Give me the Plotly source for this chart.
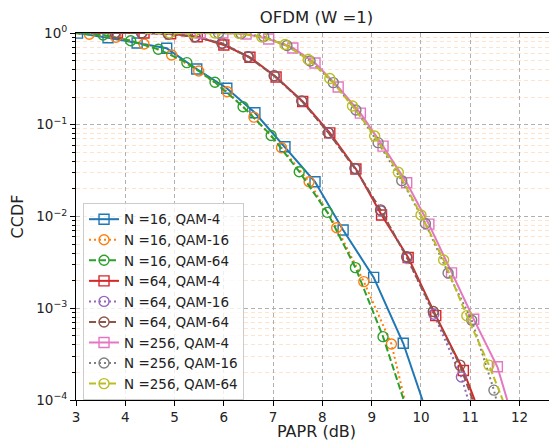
import plotly.graph_objects as go

# CCDF of PAPR (markers only; lines pass through them)
names = ['N =16, QAM-4', 'N =16, QAM-16', 'N =16, QAM-64',
         'N =64, QAM-4', 'N =64, QAM-16', 'N =64, QAM-64',
         'N =256, QAM-4', 'N =256, QAM-16', 'N =256, QAM-64']

x_16_q4 = [3.03, 3.65, 4.24, 4.84, 5.45, 6.06, 6.63, 7.24, 7.85, 8.42, 9.04, 9.64]
y_16_q4 = [0.997, 0.889, 0.778, 0.681, 0.405, 0.250, 0.135, 0.0576, 0.0239, 0.00713, 0.00217, 4.15e-4]
x_16_q16 = [3.27, 3.81, 4.38, 4.94, 5.49, 6.07, 6.61, 7.17, 7.73, 8.29, 8.84, 9.40]
y_16_q16 = [0.968, 0.898, 0.759, 0.576, 0.385, 0.229, 0.121, 0.0562, 0.0239, 0.00755, 0.00195, 4.08e-4]
x_16_q64 = [3.55, 4.11, 4.67, 5.25, 5.82, 6.39, 6.96, 7.53, 8.10, 8.67, 9.23]
y_16_q64 = [0.951, 0.824, 0.664, 0.475, 0.290, 0.157, 0.0763, 0.0308, 0.0111, 0.00277, 4.9e-4]

x_64_q4 = [3.84, 4.38, 4.92, 5.46, 6.00, 6.53, 7.06, 7.60, 8.15, 8.68, 9.20, 9.74, 10.30, 10.86]
y_64_q4 = [1.0, 1.0, 0.98, 0.91, 0.74, 0.544, 0.331, 0.179, 0.0815, 0.0330, 0.0104, 0.00358, 8.3e-4, 2.1e-4]
x_64_q16 = [3.80, 4.34, 4.88, 5.42, 5.97, 6.50, 7.03, 7.59, 8.13, 8.67, 9.19, 9.72, 10.26, 10.82]
y_64_q16 = [1.0, 1.0, 0.975, 0.91, 0.77, 0.55, 0.34, 0.180, 0.081, 0.0330, 0.0115, 0.00352, 8.6e-4, 1.78e-4]
x_64_q64 = [3.79, 4.33, 4.87, 5.41, 5.96, 6.49, 7.02, 7.58, 8.12, 8.66, 9.18, 9.71, 10.25, 10.79]
y_64_q64 = [1.0, 1.0, 0.975, 0.911, 0.772, 0.552, 0.343, 0.182, 0.0820, 0.0335, 0.0118, 0.00364, 9.2e-4, 2.4e-4]

x_256_q4 = [5.52, 5.98, 6.45, 6.91, 7.40, 7.85, 8.32, 8.77, 9.23, 9.71, 10.16, 10.62, 11.07, 11.55]
y_256_q4 = [1.0, 1.0, 0.975, 0.86, 0.686, 0.471, 0.258, 0.134, 0.0585, 0.0233, 0.00825, 0.00243, 7.6e-4, 2.3e-4]
x_256_q16 = [5.89, 6.35, 6.81, 7.28, 7.75, 8.22, 8.68, 9.13, 9.61, 10.09, 10.55, 11.03, 11.48]
y_256_q16 = [1.0, 0.99, 0.916, 0.731, 0.496, 0.288, 0.145, 0.0638, 0.0246, 0.00838, 0.00242, 7.4e-4, 1.28e-4]
x_256_q64 = [4.90, 5.37, 5.82, 6.31, 6.77, 7.24, 7.71, 8.15, 8.61, 9.06, 9.54, 10.00, 10.46, 10.93, 11.38]
y_256_q64 = [1.0, 1.0, 1.0, 0.99, 0.905, 0.749, 0.514, 0.319, 0.160, 0.0755, 0.0304, 0.0104, 0.00336, 8.3e-4, 2.4e-4]

# where each curve leaves the plot (start at CCDF = 1, end at CCDF = 1e-4)
start_x = [2.90, 2.75, 2.95, 3.30, 3.30, 3.30, 5.00, 5.40, 4.40]
start_y = [1.0, 1.0, 1.0, 1.0, 1.0, 1.0, 1.0, 1.0, 1.0]
end_x = [10.03, 9.67, 9.65, 11.09, 10.96, 11.05, 11.75, 11.53, 11.66]
end_y = [1e-4, 1e-4, 1e-4, 1e-4, 1e-4, 1e-4, 1e-4, 1e-4, 1e-4]

xs = [x_16_q4, x_16_q16, x_16_q64, x_64_q4, x_64_q16, x_64_q64, x_256_q4, x_256_q16, x_256_q64]
ys = [y_16_q4, y_16_q16, y_16_q64, y_64_q4, y_64_q16, y_64_q64, y_256_q4, y_256_q16, y_256_q64]

colors = ['#1f77b4', '#ff7f0e', '#2ca02c', '#d62728', '#9467bd',
          '#8c564b', '#e377c2', '#7f7f7f', '#bcbd22']
dashes = ['solid', '2px,3px', '7px,3px'] * 3
symbols = ['square-open', 'circle-open', 'circle-open'] * 3

y_ticks = [1e-4, 1e-3, 1e-2, 1e-1, 1]
y_ticktext = ['10<sup>\u22124</sup>', '10<sup>\u22123</sup>', '10<sup>\u22122</sup>',
              '10<sup>\u22121</sup>', '10<sup>0</sup>']
x_ticks = [3, 4, 5, 6, 7, 8, 9, 10, 11, 12]
y_minor = [m * d for d in [1e-4, 1e-3, 1e-2, 1e-1] for m in range(2, 10)]

fig = go.Figure()
for i in range(len(names)):
    lx = [start_x[i]] + xs[i] + [end_x[i]]
    ly = [start_y[i]] + ys[i] + [end_y[i]]
    line = dict(color=colors[i], width=2, dash=dashes[i])
    mk = dict(symbol=symbols[i], size=10, color=colors[i], line=dict(width=1.4, color=colors[i]))
    fig.add_trace(go.Scatter(x=lx, y=ly, mode='lines', line=line,
                             legendgroup=names[i], showlegend=False, hoverinfo='skip'))
    fig.add_trace(go.Scatter(x=xs[i], y=ys[i], mode='markers', marker=mk,
                             legendgroup=names[i], showlegend=False))
    # legend entry only
    fig.add_trace(go.Scatter(x=[None], y=[None], mode='lines+markers', line=line, marker=mk,
                             name=names[i], legendgroup=names[i]))

font = dict(family='DejaVu Sans', size=13.5, color='#222')

# the page body has an 8px margin, so the figure is 8px smaller than the window
fig.update_layout(
    width=549, height=433,
    margin=dict(l=68, r=0, t=25, b=41),
    plot_bgcolor='white', paper_bgcolor='white',
    font=font,
    title=dict(text='OFDM (W =1)', xref='paper', x=0.5, xanchor='center',
               yref='container', y=0.979, yanchor='middle',
               font=dict(family='DejaVu Sans', size=16.5, color='#222')),
    showlegend=True,
    legend=dict(x=0.0146, y=0.537, xanchor='left', yanchor='top',
                bgcolor='rgba(255,255,255,0.8)', bordercolor='#cccccc', borderwidth=1,
                font=dict(family='DejaVu Sans', size=13.5, color='#222'),
                tracegroupgap=0),
    xaxis=dict(range=[3, 12.76], tickvals=x_ticks, showline=True, linecolor='black',
               linewidth=1, mirror=True, ticks='outside', ticklen=5, tickcolor='black',
               showgrid=True, gridcolor='#b0b0b0', griddash='4px,3px', gridwidth=1,
               zeroline=False, automargin=False,
               title=dict(text='PAPR (dB)', standoff=4)),
    yaxis=dict(type='log', range=[-4, 0], tickvals=y_ticks, ticktext=y_ticktext,
               showline=True, linecolor='black', linewidth=1, ticks='outside', ticklen=5,
               tickcolor='black', showgrid=True, gridcolor='#b0b0b0', griddash='4px,3px',
               gridwidth=1, zeroline=False, automargin=False,
               minor=dict(tickvals=y_minor, ticks='outside', ticklen=3, tickcolor='black',
                          showgrid=True, gridcolor='rgba(255,127,14,0.22)', griddash='4px,3px',
                          gridwidth=1),
               title=dict(text='CCDF', standoff=8)),
)

fig.write_html("out.html")
